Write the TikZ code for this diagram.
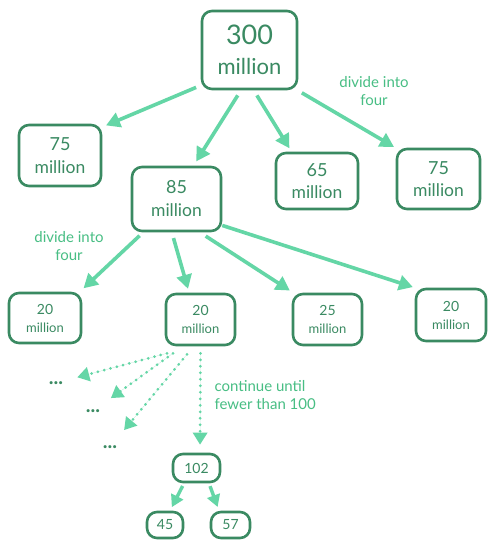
\documentclass[tikz,border=0pt]{standalone}
\usepackage{fontspec}
\setmainfont{Lato}
\usetikzlibrary{arrows.meta,calc}
\definecolor{boxc}{RGB}{58,138,98}
\definecolor{arrc}{RGB}{100,214,166}
\definecolor{annc}{RGB}{72,190,132}
\begin{document}
\begin{tikzpicture}[x=1pt,y=-1pt,
  box/.style={draw=boxc, line width=2.6pt, rounded corners=10pt, align=center, inner sep=0pt, text=boxc},
  arr/.style={draw=arrc, fill=arrc, line width=3.6pt, -{Triangle[length=14pt,width=15pt]}},
  sarr/.style={draw=arrc, fill=arrc, line width=3.4pt, -{Triangle[length=12pt,width=13pt]}},
  dotarr/.style={draw=arrc, fill=arrc, line width=3pt, line cap=round, dash pattern=on 0pt off 6.5pt, -{Triangle[length=12pt,width=14pt]}},
  ann/.style={text=annc, align=center, font=\fontsize{15}{18}\selectfont},
  dotsn/.style={text=boxc, inner sep=1pt, font=\fontsize{20}{20}\selectfont\bfseries}]
\path[use as bounding box, fill=white] (0,0) rectangle (500,553);

% boxes
\node[box,minimum width=95pt,minimum height=78pt] (n300) at (249.5,50)
  {\fontsize{27}{30}\selectfont 300\\[12pt]\fontsize{22}{26}\selectfont million};
\node[box,minimum width=82pt,minimum height=61pt] (n75a) at (60,155.5)
  {\fontsize{18}{22}\selectfont 75\\[9pt]\fontsize{17.5}{22}\selectfont million};
\node[box,minimum width=89pt,minimum height=64pt] (n85) at (176.5,199)
  {\fontsize{18}{22}\selectfont 85\\[9pt]\fontsize{17.5}{22}\selectfont million};
\node[box,minimum width=82pt,minimum height=56pt] (n65) at (317,181)
  {\fontsize{18}{22}\selectfont 65\\[8pt]\fontsize{17.5}{22}\selectfont million};
\node[box,minimum width=83pt,minimum height=60pt] (n75b) at (438.5,179)
  {\fontsize{18}{22}\selectfont 75\\[8pt]\fontsize{17.5}{22}\selectfont million};

\node[box,minimum width=72pt,minimum height=50pt] (r1) at (45,318)
  {\fontsize{14}{17}\selectfont 20\\[6pt]\fontsize{13}{17}\selectfont million};
\node[box,minimum width=69pt,minimum height=51pt] (r2) at (200.5,319.5)
  {\fontsize{14}{17}\selectfont 20\\[6pt]\fontsize{13}{17}\selectfont million};
\node[box,minimum width=69pt,minimum height=51pt] (r3) at (327.5,319.5)
  {\fontsize{14}{17}\selectfont 25\\[6pt]\fontsize{13}{17}\selectfont million};
\node[box,minimum width=70pt,minimum height=52pt] (r4) at (451,315)
  {\fontsize{14}{17}\selectfont 20\\[6pt]\fontsize{13}{17}\selectfont million};

\node[box,minimum width=47pt,minimum height=28pt,font=\fontsize{14}{17}\selectfont] (n102) at (196.5,468) {102};
\node[box,minimum width=36pt,minimum height=26pt,font=\fontsize{14}{17}\selectfont] (n45) at (165,525) {45};
\node[box,minimum width=39pt,minimum height=26pt,font=\fontsize{14}{17}\selectfont] (n57) at (230.5,525) {57};

% dots
\node[dotsn] (d1) at (56,383) {...};
\node[dotsn] (d2) at (93,411) {...};
\node[dotsn] (d3) at (110,447) {...};

% annotations
\node[ann] (a1) at (374,91) {divide into\\four};
\node[ann] (a2) at (69,246) {divide into\\four};
\node[ann,anchor=west,align=left] (a3) at (211,395) {continue until\\fewer than 100};

% arrows from 300
\draw[arr, shorten <=5pt, shorten >=4pt] (n300.216) -- (n75a.34);
\draw[arr, shorten <=6pt, shorten >=5pt] (n300.258) -- (n85.63);
\draw[arr, shorten <=6pt, shorten >=4pt] (n300.276) -- (n65.131);
\draw[arr, shorten <=5pt, shorten >=2pt] (n300.320) -- (n75b.144);

% arrows from 85
\draw[arr, shorten <=5pt, shorten >=5pt] (n85.225) -- (r1.37);
\draw[arr, shorten <=6pt, shorten >=4pt] (n85.262) -- (r2.113);
\draw[arr, shorten <=7pt, shorten >=4pt] (n85.305) -- (r3.142);
\draw[arr, shorten <=0pt, shorten >=2pt] (n85.330) -- (r4.143);

% dotted arrows
\draw[dotarr, shorten >=22pt] ([xshift=-33.5pt,yshift=-7pt]r2.south) -- (d1.center);
\draw[dotarr, shorten >=22pt] ([xshift=-27.5pt,yshift=-7pt]r2.south) -- (d2.center);
\draw[dotarr, shorten >=22pt] ([xshift=-13.5pt,yshift=-8pt]r2.south) -- (d3.center);
\draw[dotarr, shorten >=8pt] ([yshift=-7pt]r2.south) -- ([xshift=3.5pt]n102.north);

% arrows from 102
\draw[sarr, shorten <=3pt, shorten >=4pt] ([xshift=-12.5pt]n102.south) -- ([xshift=5pt]n45.north);
\draw[sarr, shorten <=3pt, shorten >=4pt] ([xshift=12.5pt]n102.south) -- ([xshift=-11.5pt]n57.north);
\end{tikzpicture}
\end{document}
